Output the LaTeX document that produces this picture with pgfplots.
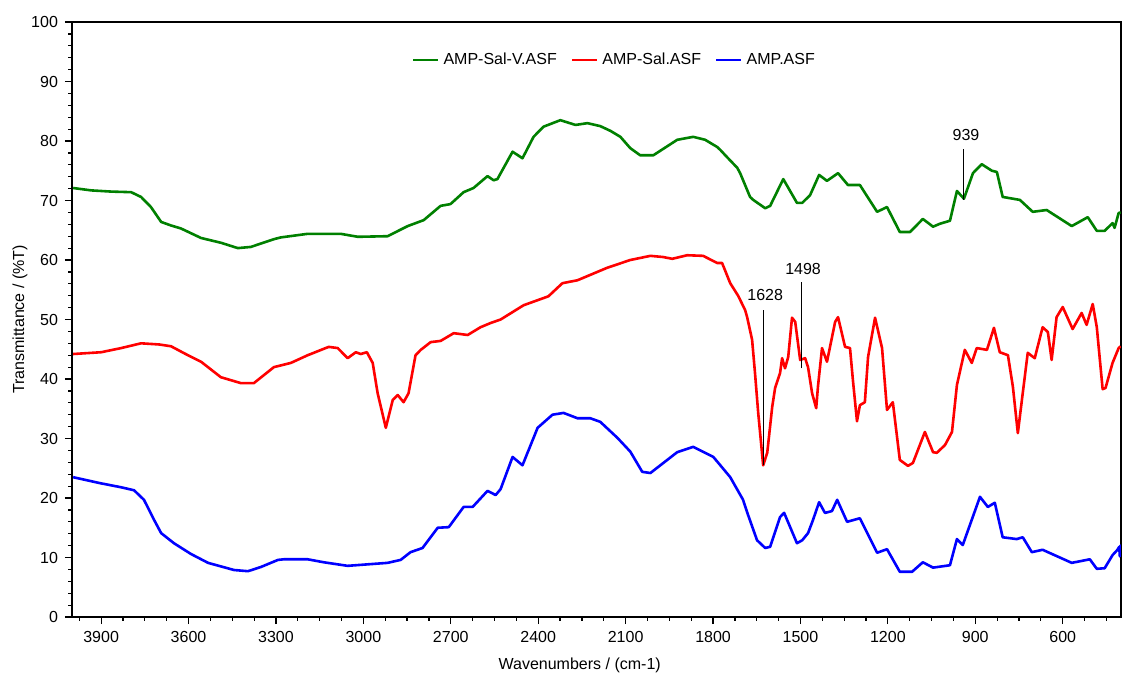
\documentclass[border=0pt]{standalone}
\usepackage{fontspec}
\setmainfont{Liberation Sans}
\usepackage{pgfplots}
\pgfplotsset{compat=1.18}

\definecolor{specgreen}{RGB}{0,128,0}
\definecolor{specred}{RGB}{255,0,0}
\definecolor{specblue}{RGB}{0,0,255}

\begin{document}
\begin{tikzpicture}
\useasboundingbox (-36pt,-32.5pt) rectangle (526pt,308.5pt);
\begin{axis}[
  at={(0pt,0pt)}, anchor=south west,
  scale only axis, width=524.5pt, height=297.5pt,
  x dir=reverse, xmin=400, xmax=4000, ymin=0, ymax=100,
  xtick={600,900,...,3900}, minor xtick={450,525,...,3975},
  ytick={0,10,...,100}, minor ytick={0,2,...,100},
  tick align=outside, tick pos=left,
  major tick length=3.5pt, minor tick length=1.8pt,
  every tick/.style={black, line width=0.6pt},
  axis line style={line width=1.1pt},
  font=\fontsize{8}{9.6}\selectfont,
  /pgf/number format/assume math mode=true,
  /pgf/number format/1000 sep={},
  xlabel={Wavenumbers / (cm-1)},
  ylabel={Transmittance / (\%T)},
  xlabel style={at={(axis description cs:0.484,0)}, anchor=center, yshift=-24pt},
  ylabel style={at={(axis description cs:-0.0496,0.5)}, anchor=center},
  legend columns=3,
  legend style={draw=none, fill=none, at={(0.318,0.936)}, anchor=west,
    font=\fontsize{8}{9.6}\selectfont,
    /tikz/every even column/.append style={column sep=5pt}},
  legend image code/.code={\draw[#1, line width=1.3pt] (0pt,0pt) -- (12.5pt,0pt);},
  every axis plot/.append style={line width=1.3pt, line join=round, mark=none},
]

% AMP-Sal-V
\addplot[specgreen] table {
3996 72.1
3934 71.7
3866 71.5
3797 71.4
3763 70.6
3729 68.9
3694 66.4
3660 65.8
3626 65.3
3557 63.7
3489 62.9
3431 62.0
3386 62.2
3307 63.5
3283 63.8
3191 64.4
3078 64.4
3019 63.9
2917 64.0
2848 65.7
2793 66.7
2735 69.1
2701 69.4
2656 71.4
2622 72.1
2574 74.1
2553 73.4
2540 73.6
2488 78.2
2454 77.1
2416 80.7
2382 82.4
2324 83.5
2272 82.7
2231 83.0
2187 82.5
2152 81.7
2118 80.7
2084 78.8
2050 77.6
2005 77.6
1923 80.2
1868 80.7
1827 80.2
1786 79.0
1775 78.5
1758 77.6
1717 75.5
1707 74.6
1673 70.6
1662 70.1
1621 68.7
1604 69.1
1559 73.6
1512 69.6
1494 69.6
1467 70.9
1436 74.3
1409 73.3
1371 74.6
1337 72.6
1296 72.6
1237 68.1
1203 68.9
1159 64.7
1124 64.7
1080 66.9
1045 65.6
1021 66.1
987 66.6
963 71.6
939 70.3
908 74.6
878 76.1
843 75.0
826 74.8
806 70.6
747 70.1
703 68.1
655 68.4
569 65.7
514 67.2
483 64.9
456 64.9
429 66.2
422 65.4
408 67.9
401 68.0
};
\addlegendentry{AMP-Sal-V.ASF}

% AMP-Sal
\addplot[specred] table {
3996 44.2
3900 44.5
3831 45.2
3763 46.0
3700 45.8
3660 45.5
3610 44.2
3557 42.9
3489 40.3
3420 39.3
3376 39.3
3307 42.0
3249 42.7
3191 44.0
3119 45.4
3088 45.2
3054 43.5
3026 44.5
3009 44.2
2988 44.5
2968 42.7
2951 37.6
2923 31.8
2899 36.5
2882 37.3
2862 36.1
2845 37.6
2821 44.0
2803 44.9
2769 46.2
2735 46.4
2690 47.7
2642 47.4
2598 48.7
2564 49.4
2529 50.0
2450 52.4
2365 53.9
2317 56.1
2265 56.6
2163 58.7
2084 60.0
2015 60.7
1971 60.5
1940 60.2
1889 60.8
1834 60.7
1786 59.5
1769 59.5
1741 56.1
1714 54.0
1690 51.6
1683 50.4
1666 46.6
1656 41.0
1645 34.3
1628 25.5
1614 27.6
1597 35.3
1587 38.5
1570 41.0
1563 43.5
1553 41.8
1542 43.7
1529 50.3
1518 49.6
1501 43.2
1484 43.5
1474 42.0
1460 37.6
1446 35.1
1440 38.7
1426 45.2
1409 42.9
1381 49.6
1371 50.4
1347 45.4
1330 45.2
1320 39.8
1306 32.9
1296 35.6
1279 36.1
1268 43.7
1244 50.3
1220 45.2
1203 34.8
1183 36.1
1159 26.4
1131 25.4
1114 25.9
1073 31.1
1045 27.7
1032 27.6
1004 28.9
980 31.1
963 39.0
936 44.9
912 42.7
895 45.2
860 44.9
836 48.6
816 44.5
788 44.0
771 38.7
754 30.9
740 36.5
720 44.4
696 43.5
669 48.7
651 47.9
638 43.2
621 50.4
600 52.1
566 48.4
535 51.1
518 49.1
497 52.6
483 48.7
463 38.3
453 38.5
429 42.7
408 45.2
401 45.5
};
\addlegendentry{AMP-Sal.ASF\hspace{8pt}}

% AMP
\addplot[specblue] table {
3996 23.5
3904 22.5
3831 21.8
3787 21.3
3753 19.7
3718 16.3
3694 14.1
3650 12.4
3592 10.6
3533 9.1
3444 7.9
3396 7.7
3352 8.4
3293 9.6
3273 9.7
3191 9.7
3136 9.2
3054 8.6
2917 9.1
2872 9.6
2838 10.9
2797 11.6
2745 15.0
2707 15.1
2656 18.5
2625 18.5
2574 21.2
2546 20.5
2529 21.5
2488 26.9
2454 25.5
2402 31.8
2351 34.0
2313 34.3
2265 33.4
2221 33.4
2187 32.8
2128 30.1
2084 27.8
2043 24.4
2015 24.2
1923 27.7
1868 28.6
1799 26.9
1775 25.5
1741 23.5
1697 19.7
1683 17.6
1649 12.9
1621 11.6
1604 11.8
1570 16.8
1556 17.5
1512 12.4
1494 12.9
1474 14.1
1457 16.3
1436 19.3
1416 17.5
1392 17.8
1374 19.7
1340 16.0
1296 16.6
1237 10.8
1203 11.4
1159 7.6
1117 7.6
1080 9.2
1045 8.3
987 8.7
963 13.1
943 12.1
884 20.2
857 18.5
833 19.2
806 13.4
758 13.1
737 13.4
706 10.9
669 11.3
569 9.1
507 9.7
483 8.1
456 8.2
429 10.4
412 11.3
406 11.8
404 10.2
402 12.0
401 10.8
};
\addlegendentry{AMP.ASF}

% peak annotations
\draw[black, line width=0.5pt] (axis cs:1628,25.5) -- (axis cs:1628,51.6);
\node at (axis cs:1621,54.1) {1628};
\draw[black, line width=0.5pt] (axis cs:1498,41.8) -- (axis cs:1498,56.3);
\node at (axis cs:1491,58.5) {1498};
\draw[black, line width=0.5pt] (axis cs:939,70.1) -- (axis cs:939,78.7);
\node at (axis cs:932,81.0) {939};
\end{axis}
\end{tikzpicture}
\end{document}
